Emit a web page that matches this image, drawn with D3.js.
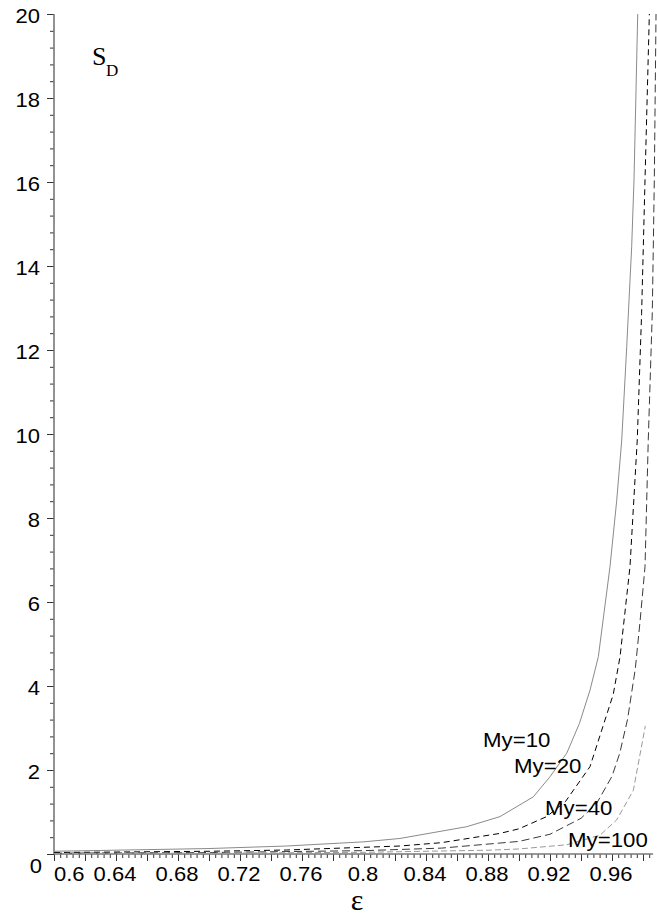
<!DOCTYPE html>
<html>
<head>
<meta charset="utf-8">
<script src="https://cdn.jsdelivr.net/npm/d3@7"></script>
<style>
  html, body { margin: 0; padding: 0; background: #fff; }
  svg { display: block; }
  .tick-label { font-family: "Liberation Sans", Arial, sans-serif; font-size: 20px; fill: #000; }
  .curve-label { font-family: "Liberation Sans", Arial, sans-serif; font-size: 21px; fill: #000; }
</style>
</head>
<body>
<svg id="chart" width="657" height="915"></svg>
<script>
// S_D as a function of ε for several My values
const eps10 = [0.6, 0.7, 0.75, 0.8, 0.8232, 0.8663, 0.8877, 0.9092, 0.92, 0.9308, 0.939, 0.9458, 0.9512, 0.9587, 0.963, 0.9663, 0.9695, 0.9727, 0.9742, 0.9766];
const sd10  = [0.065, 0.13, 0.19, 0.29, 0.37, 0.65, 0.89, 1.36, 1.84, 2.4, 3.11, 3.9, 4.7, 6.84, 8.4, 9.86, 12.08, 14.46, 16.05, 20];

const eps20 = [0.6, 0.7, 0.75, 0.8232, 0.85, 0.8877, 0.9, 0.9178, 0.93, 0.9458, 0.9608, 0.9652, 0.9716, 0.9763, 0.9791, 0.9813, 0.9841];
const sd20  = [0.035, 0.065, 0.095, 0.19, 0.27, 0.49, 0.6, 0.89, 1.25, 2.08, 3.8, 4.7, 6.84, 9.86, 12.87, 16.05, 20];

const eps40 = [0.6, 0.7, 0.8, 0.85, 0.9, 0.92, 0.94, 0.95, 0.96, 0.965, 0.97, 0.975, 0.978, 0.9813, 0.9834, 0.986, 0.9873, 0.9884];
const sd40  = [0.02, 0.035, 0.08, 0.14, 0.3, 0.47, 0.85, 1.2, 1.85, 2.4, 3.2, 4.4, 5.5, 6.84, 9.86, 12.9, 16.05, 20];

const eps100 = [0.6, 0.7, 0.8, 0.8232, 0.88, 0.9, 0.9308, 0.9523, 0.963, 0.9738, 0.9815];
const sd100  = [0.012, 0.02, 0.04, 0.055, 0.09, 0.12, 0.22, 0.45, 0.81, 1.52, 3.05];

const xTickLabels = ["0.6", "0.64", "0.68", "0.72", "0.76", "0.8", "0.84", "0.88", "0.92", "0.96"];
const yTickLabels = ["0", "2", "4", "6", "8", "10", "12", "14", "16", "18", "20"];
const seriesNames = ["My=10", "My=20", "My=40", "My=100"];

const svg = d3.select("#chart");

const x = d3.scaleLinear().domain([0.6, 0.99]).range([54, 658.5]);
const y = d3.scaleLinear().domain([0, 20]).range([854, 14]);

// ---- axes ----
const xMinor = d3.range(0, 97).map(i => +(0.6 + i * 0.004).toFixed(3));
const xMajor = d3.range(0, 20).map(i => +(0.6 + i * 0.02).toFixed(3));
const yMinor = d3.range(0, 51).map(i => +(i * 0.4).toFixed(1));
const yMajor = yTickLabels.map(Number);

function tickAxis(axis, values, size) {
  return axis.tickValues(values).tickSize(size).tickFormat("");
}

const gx = svg.append("g").attr("transform", `translate(0,${y(0)})`);
gx.append("g").call(tickAxis(d3.axisBottom(x), xMinor, 4));
gx.append("g").call(tickAxis(d3.axisBottom(x), xMajor, 7));
gx.selectAll(".domain").remove();
gx.selectAll(".tick line").attr("stroke", "#333").attr("stroke-width", 1);

const gy = svg.append("g").attr("transform", `translate(${x(0.6)},0)`);
gy.append("g").call(tickAxis(d3.axisLeft(y), yMinor, 4));
gy.append("g").call(tickAxis(d3.axisLeft(y), yMajor, 7));
gy.selectAll(".domain").remove();
gy.selectAll(".tick line").attr("stroke", "#333").attr("stroke-width", 1);

// axis lines
svg.append("line")
  .attr("x1", x(0.6)).attr("x2", x(0.9865))
  .attr("y1", y(0)).attr("y2", y(0))
  .attr("stroke", "#777").attr("stroke-width", 1.6);
svg.append("line")
  .attr("x1", x(0.6)).attr("x2", x(0.6))
  .attr("y1", y(0)).attr("y2", y(20))
  .attr("stroke", "#777").attr("stroke-width", 1.6);

// tick labels (slightly widened glyphs)
xTickLabels.forEach((t, i) => {
  const v = +t;
  const first = i === 0;
  svg.append("text")
    .attr("class", "tick-label")
    .attr("text-anchor", first ? "start" : "middle")
    .attr("transform", `translate(${first ? x(v) : x(v) - 1},881) scale(1.1,1)`)
    .text(t);
});
yTickLabels.forEach(t => {
  const v = +t;
  if (v === 0) {
    svg.append("text")
      .attr("class", "tick-label")
      .attr("text-anchor", "end")
      .attr("transform", `translate(42,873) scale(1.1,1)`)
      .text(t);
  } else {
    svg.append("text")
      .attr("class", "tick-label")
      .attr("text-anchor", "end")
      .attr("transform", `translate(40,${y(v) + 9}) scale(1.1,1)`)
      .text(t);
  }
});

// axis titles
svg.append("text")
  .attr("x", 357).attr("y", 910)
  .attr("text-anchor", "middle")
  .style("font-family", "'Liberation Serif', 'Times New Roman', serif")
  .style("font-size", "30px")
  .text("ε");

const sd = svg.append("text")
  .attr("x", 92).attr("y", 65)
  .style("font-family", "'Liberation Serif', 'Times New Roman', serif")
  .style("font-size", "26px");
sd.append("tspan").text("S");
sd.append("tspan").attr("x", 106).attr("y", 76).style("font-size", "17px").text("D");

// ---- curves ----
const series = [
  { eps: eps10,  sd: sd10,  stroke: "#8a8a8a", dash: null },
  { eps: eps20,  sd: sd20,  stroke: "#000",    dash: "6,4" },
  { eps: eps40,  sd: sd40,  stroke: "#3a3a3a", dash: "8,4" },
  { eps: eps100, sd: sd100, stroke: "#9a9a9a", dash: "6,3" }
];

const line = d3.line().x(d => x(d[0])).y(d => y(d[1]));

series.forEach(s => {
  svg.append("path")
    .datum(d3.zip(s.eps, s.sd))
    .attr("d", line)
    .attr("fill", "none")
    .attr("stroke", s.stroke)
    .attr("stroke-width", 1)
    .attr("stroke-dasharray", s.dash);
});

// curve labels
const labelPos = [[483, 747], [514, 773], [545, 815], [568, 847]];
seriesNames.forEach((n, i) => {
  svg.append("text")
    .attr("class", "curve-label")
    .attr("transform", `translate(${labelPos[i][0]},${labelPos[i][1]}) scale(1.06,1)`)
    .text(n);
});
</script>
</body>
</html>
